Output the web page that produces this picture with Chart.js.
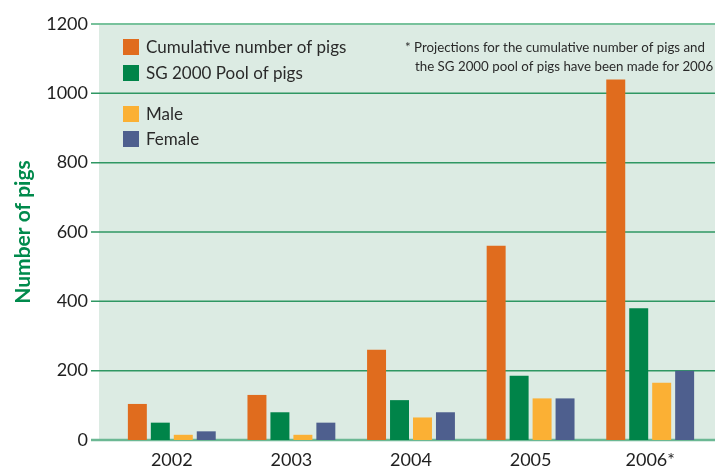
<!DOCTYPE html>
<html>
<head>
<meta charset="utf-8">
<script src="https://cdn.jsdelivr.net/npm/chart.js@4"></script>
<style>
html,body{margin:0;padding:0;background:#fff;}
#wrap{width:715px;height:466px;}
</style>
</head>
<body>
<div id="wrap"><canvas id="c" width="715" height="466"></canvas></div>
<script>
const categories = ["2002", "2003", "2004", "2005", "2006*"];
const cumulative = [104, 130, 260, 560, 1040];
const pool = [50, 80, 115, 185, 380];
const male = [15, 15, 65, 120, 165];
const female = [25, 50, 80, 120, 200];
const yTicks = [0, 200, 400, 600, 800, 1000, 1200];
const seriesLabels = ["Cumulative number of pigs", "SG 2000 Pool of pigs", "Male", "Female"];
const seriesColors = ["#e06c1e", "#008449", "#fbb034", "#4e5f8e"];
const noteLines = ["* Projections for the cumulative number of pigs and", "the SG 2000 pool of pigs have been made for 2006"];

const FONT = "Lato, 'Open Sans', sans-serif";

const bgPlugin = {
  id: 'bgPlugin',
  beforeDatasetsDraw(chart) {
    const ctx = chart.ctx;
    const y = chart.scales.y;
    const topPx = y.getPixelForValue(1200);
    const botPx = y.getPixelForValue(0);
    ctx.save();
    ctx.fillStyle = '#dcebe3';
    ctx.fillRect(99, topPx, 715 - 99, botPx - topPx);
    yTicks.forEach(v => {
      const p = y.getPixelForValue(v);
      ctx.beginPath();
      if (v === 0) { ctx.strokeStyle = '#6cb894'; ctx.lineWidth = 2.5; }
      else if (v === 1200) { ctx.strokeStyle = '#78c29c'; ctx.lineWidth = 2; }
      else { ctx.strokeStyle = '#2f9763'; ctx.lineWidth = 1.5; }
      ctx.moveTo(91, p);
      ctx.lineTo(715, p);
      ctx.stroke();
    });
    ctx.restore();
  },
  afterDraw(chart) {
    const ctx = chart.ctx;
    ctx.save();
    const rows = [47, 73, 114, 139];
    ctx.font = "17px " + FONT;
    ctx.textBaseline = 'middle';
    chart.data.datasets.forEach((ds, i) => {
      ctx.fillStyle = ds.backgroundColor;
      ctx.fillRect(123, rows[i] - 8, 16, 16);
      ctx.fillStyle = '#2a2a2a';
      ctx.fillText(ds.label, 146, rows[i] + 1);
    });
    ctx.font = "13.3px " + FONT;
    ctx.fillStyle = '#2a2a2a';
    ctx.fillText(noteLines[0], 405, 48);
    ctx.fillText(noteLines[1], 415, 67);
    ctx.restore();
  }
};

const datasets = [cumulative, pool, male, female].map((d, i) => ({
  label: seriesLabels[i],
  data: d,
  backgroundColor: seriesColors[i],
  borderWidth: 0,
  categoryPercentage: 0.768,
  barPercentage: 0.826
}));

new Chart(document.getElementById('c'), {
  type: 'bar',
  data: { labels: categories, datasets },
  options: {
    responsive: false,
    animation: false,
    devicePixelRatio: 1,
    layout: { padding: { top: 24, right: 5, left: 0, bottom: 0 } },
    plugins: { legend: { display: false }, tooltip: { enabled: false } },
    scales: {
      x: {
        grid: { display: false, drawTicks: false },
        border: { display: false },
        ticks: { color: '#1f1f1f', font: { family: FONT, size: 18 }, padding: 9 },
        afterFit(s) { s.height = 26; s.paddingLeft = 0; s.paddingRight = 0; }
      },
      y: {
        min: 0, max: 1200,
        afterBuildTicks(s) { s.ticks = yTicks.map(v => ({ value: v })); },
        grid: { display: false, drawTicks: false },
        border: { display: false },
        ticks: { color: '#1f1f1f', font: { family: FONT, size: 18 }, padding: 24,
                 callback: v => String(v) },
        title: { display: true, text: 'Number of pigs', color: '#008a4c',
                 font: { family: FONT, size: 21, weight: 'bold' }, padding: { top: 11, bottom: 0 } },
        afterFit(s) { s.width = 112; s.paddingTop = 0; s.paddingBottom = 0; }
      }
    }
  },
  plugins: [bgPlugin]
});
</script>
</body>
</html>
